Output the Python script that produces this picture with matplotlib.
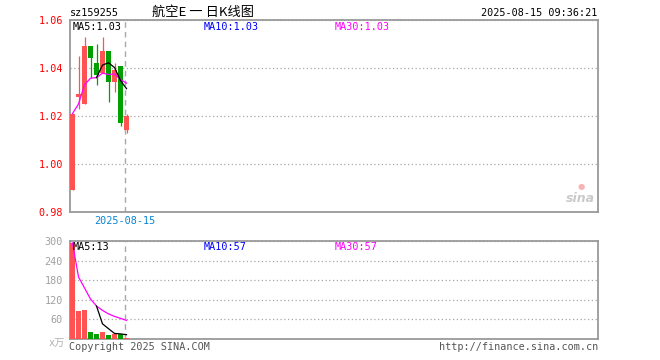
"""Daily K-line chart for sz159255 (Sina finance style)."""
from __future__ import annotations

import matplotlib

matplotlib.use("Agg")
import matplotlib.pyplot as plt
import numpy as np

plt.rcParams["font.family"] = ["DejaVu Sans Mono", "Noto Sans CJK SC"]

# --- data -------------------------------------------------------------------
CODE = "sz159255"
TITLE = "航空E 一 日K线图"
STAMP = "2025-08-15 09:36:21"
LAST_DATE = "2025-08-15"

opens = [0.989, 1.028, 1.025, 1.049, 1.042, 1.038, 1.047, 1.034, 1.041, 1.014]
highs = [1.021, 1.045, 1.053, 1.049, 1.050, 1.053, 1.047, 1.042, 1.041, 1.021]
lows = [0.989, 1.023, 1.025, 1.036, 1.033, 1.038, 1.026, 1.030, 1.016, 1.013]
closes = [1.021, 1.029, 1.049, 1.044, 1.037, 1.047, 1.034, 1.039, 1.017, 1.020]
volumes = [294, 86, 89, 21, 14, 22, 12, 16, 14, 2]  # 万

price_ticks = [0.98, 1.00, 1.02, 1.04, 1.06]
volume_ticks = [60, 120, 180, 240, 300]

# --- style ------------------------------------------------------------------
W, H = 660, 360
SLOTS = 88
RED = "#ff5353"
GREEN = "#00a000"
GRID = "#a8a8a8"
FRAME = "#9a9a9a"
MA_COLORS = {"MA5": "black", "MA10": "#0000ff", "MA30": "#ff00ff"}
FS = 7.3


def px_rect(left, top, right, bottom):
    return [left / W, 1 - bottom / H, (right - left) / W, (bottom - top) / H]


def fy(y):
    return 1 - y / H


def moving_average(values, n):
    vals = np.asarray(values, dtype=float)
    out = np.full(len(vals), np.nan)
    for i in range(n - 1, len(vals)):
        out[i] = vals[i - n + 1 : i + 1].mean()
    return out


def running_average(values, n):
    # Sina draws the long MA from the first day using all available days
    vals = np.asarray(values, dtype=float)
    return np.array([vals[max(0, i - n + 1) : i + 1].mean() for i in range(len(vals))])


def style_axes(ax, ylim, ticks, labels, label_color):
    ax.set_xlim(-2.5 / 6, -2.5 / 6 + SLOTS)
    ax.set_ylim(*ylim)
    ax.set_xticks([])
    ax.set_yticks(ticks)
    ax.set_yticklabels(labels)
    ax.tick_params(axis="y", length=0, pad=5, labelsize=FS, labelcolor=label_color)
    for sp in ax.spines.values():
        sp.set_color(FRAME)
        sp.set_linewidth(1.3)
    ax.grid(axis="y", color=GRID, linestyle=(0, (1, 2)), linewidth=0.9)
    ax.set_axisbelow(True)


fig = plt.figure(figsize=(W / 100, H / 100), dpi=100)
fig.patch.set_facecolor("white")

x = np.arange(len(closes))
up = np.array(closes) >= np.array(opens)
colors = [RED if u else GREEN for u in up]
marker_x = x[-1] - 0.33

# --- price panel ------------------------------------------------------------
ax = fig.add_axes(px_rect(70, 20, 598, 212))
style_axes(ax, (0.98, 1.06), price_ticks, [f"{t:.2f}" for t in price_ticks], "#ff0000")
ax.vlines(x, lows, highs, colors=colors, linewidth=0.9, zorder=2)
body_lo = np.minimum(opens, closes)
body_h = np.maximum(np.abs(np.array(closes) - np.array(opens)), 0.0004)
ax.bar(x, body_h, bottom=body_lo, width=5 / 6, color=colors, linewidth=0, zorder=3)

ma5 = moving_average(closes, 5)
ma10 = moving_average(closes, 10)
ma30 = running_average(closes, 30)
ax.plot(x, ma30, color=MA_COLORS["MA30"], linewidth=0.9, zorder=4)
ax.plot(x, ma5, color=MA_COLORS["MA5"], linewidth=0.9, zorder=5)
ax.axvline(marker_x, color=GRID, linestyle=(0, (4, 3)), linewidth=1.0, zorder=1)

for name, val, xp in (("MA5", ma5[-1], 73), ("MA10", ma10[-1], 204), ("MA30", ma30[-1], 335)):
    fig.text(xp / W, fy(26.5), f"{name}:{val:.2f}", color=MA_COLORS[name],
             fontsize=FS, ha="left", va="center")

# faint sina watermark
ax.text(0.995, 0.07, "sina", transform=ax.transAxes, ha="right", va="center",
        fontsize=9, fontweight="bold", style="italic", color="#cacaca",
        family="DejaVu Sans")
ax.text(0.968, 0.135, "●", transform=ax.transAxes, ha="center", va="center",
        fontsize=6, color="#f6b4b4", family="DejaVu Sans")

# --- volume panel -----------------------------------------------------------
vx = fig.add_axes(px_rect(70, 241, 598, 339))
style_axes(vx, (0, 300), volume_ticks, [str(t) for t in volume_ticks], "#a0a0a0")
vx.bar(x, volumes, width=5 / 6, color=colors, linewidth=0, zorder=3)
vma5 = moving_average(volumes, 5)
vma10 = moving_average(volumes, 10)
vma30 = running_average(volumes, 30)
vx.plot(x, vma30, color=MA_COLORS["MA30"], linewidth=0.9, zorder=4)
vx.plot(x, vma5, color=MA_COLORS["MA5"], linewidth=0.9, zorder=5)
vx.axvline(marker_x, color=GRID, linestyle=(0, (4, 3)), linewidth=1.0, zorder=1)

for name, val, xp in (("MA5", vma5[-1], 73), ("MA10", vma10[-1], 204), ("MA30", vma30[-1], 335)):
    fig.text(xp / W, fy(246.5), f"{name}:{val:.0f}", color=MA_COLORS[name],
             fontsize=FS, ha="left", va="center")

# --- header / footer --------------------------------------------------------
fig.text(70 / W, fy(13), CODE, fontsize=FS, ha="left", va="center")
fig.text(203 / W, fy(12.5), TITLE, fontsize=9.5, ha="center", va="center",
         family=["Noto Sans CJK SC", "DejaVu Sans"])
fig.text(597 / W, fy(13), STAMP, fontsize=FS, ha="right", va="center")

date_x = vx.transData.transform((marker_x, 0))[0] / fig.bbox.width
fig.text(date_x, fy(221.5), LAST_DATE, fontsize=FS, ha="center", va="center", color="#0a84d4")

fig.text(65 / W, fy(343), "x万", fontsize=FS, ha="right", va="center", color="#b0b0b0")
fig.text(69 / W, fy(347), "Copyright 2025 SINA.COM", fontsize=FS, ha="left", va="center", color="#555555")
fig.text(598 / W, fy(347), "http://finance.sina.com.cn", fontsize=FS, ha="right", va="center", color="#555555")

fig.savefig("out.png", dpi=100, facecolor="white")
